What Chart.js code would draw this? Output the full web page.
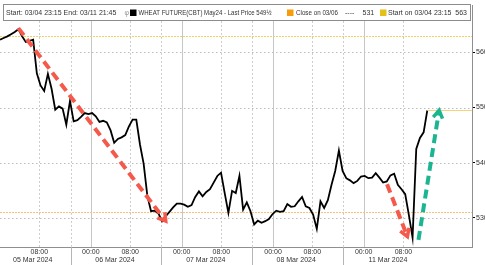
<!DOCTYPE html>
<html lang="en">
<head>
<meta charset="UTF-8">
<title>Wheat Future May24</title>
<style>
  html, body { margin: 0; padding: 0; background: #fff; overflow: hidden; }
  #wrap { position: relative; width: 485px; height: 265px; overflow: hidden; }
  canvas { position: absolute; left: 0; top: 0; }
</style>
</head>
<body>
<div id="wrap"><canvas id="chart" width="500" height="265"></canvas></div>
<script src="https://cdn.jsdelivr.net/npm/chart.js"></script>
<script>
  // one price every 45 min of trading time (x axis is in trading hours)
  const stepHours = 0.75;
  const prices = [
    562.3, 562.6, 562.9, 563.3, 563.7, 564.2, 562.9, 561.9, 562.1, 562.3,
    556.2, 554.0, 553.0, 556.1, 553.4, 549.6, 550.2, 549.8, 546.9, 551.2,
    547.5, 547.7, 548.3, 549.0, 548.8, 549.0, 548.4, 547.4, 547.6, 547.3,
    545.9, 543.6, 544.3, 544.6, 545.0, 546.6, 547.8, 547.8, 543.3, 539.8,
    534.0, 531.2, 531.3, 530.8, 529.4, 530.3, 531.1, 531.9, 532.6, 532.6,
    532.4, 532.0, 532.3, 533.8, 534.8, 533.9, 534.7, 535.2, 536.4, 537.6,
    538.2, 534.5, 530.9, 534.9, 534.5, 537.6, 531.5, 532.8, 531.2, 528.8,
    529.5, 529.1, 529.4, 529.8, 530.7, 531.3, 531.1, 531.2, 532.5, 532.0,
    532.1, 533.0, 533.8, 532.1, 531.8, 530.6, 528.0, 533.0, 531.8, 533.2,
    536.0, 538.5, 542.2, 538.5, 537.2, 536.8, 536.3, 536.7, 537.5, 537.6,
    537.2, 537.3, 538.1, 537.3, 536.4, 536.6, 537.7, 538.0, 536.0, 535.2,
    534.3, 530.5, 526.4, 542.5, 544.5, 545.5, 549.5
  ];

  const yTicks = [530, 540, 550, 560];
  const timeTickAt = [8.0, 18.5, 26.5, 37.0, 45.05, 55.6, 63.6, 74.05, 82.15];
  const timeTickText = ['08:00', '00:00', '08:00', '00:00', '08:00', '00:00', '08:00', '00:00', '08:00'];
  const dayBreakAt = [14.4, 32.85, 51.4, 69.9];
  const dayLabelAt = [6.65, 23.4, 41.9, 60.3, 79.0];
  const dayLabels = ['05 Mar 2024', '06 Mar 2024', '07 Mar 2024', '08 Mar 2024', '11 Mar 2024'];

  const startLevel = 563;
  const closeLevel = 531;
  const lastPrice = 549.5;

  // hand-drawn arrows: [hours, price] start and end
  const arrowFrom = [[3.73, 564.4], [78.8, 536.1], [85.2, 526.0]];
  const arrowTo = [[33.75, 529.4], [82.95, 526.6], [89.4, 549.5]];
  const arrowColors = ['#f4594b', '#f4594b', '#1bb592'];

  const FONT = '7px "Liberation Sans", Arial, sans-serif';

  const decor = {
    id: 'decor',
    beforeDatasetsDraw(chart) {
      const { ctx, chartArea: a, scales: { x, y } } = chart;
      ctx.save();
      ctx.lineWidth = 1;
      // horizontal dotted grid
      ctx.strokeStyle = '#bdbdbd';
      ctx.setLineDash([1.5, 2.5]);
      yTicks.forEach(v => {
        const py = Math.round(y.getPixelForValue(v)) + 0.5;
        ctx.beginPath(); ctx.moveTo(a.left, py); ctx.lineTo(a.right, py); ctx.stroke();
      });
      // vertical dotted: 08:00 ticks and day breaks
      const dotted = dayBreakAt.concat(timeTickAt.filter((v, i) => timeTickText[i] !== '00:00'));
      dotted.forEach(v => {
        const px = Math.round(x.getPixelForValue(v)) + 0.5;
        ctx.beginPath(); ctx.moveTo(px, a.top); ctx.lineTo(px, a.bottom); ctx.stroke();
      });
      // vertical solid at midnight
      ctx.setLineDash([]);
      ctx.strokeStyle = '#c6c6c6';
      timeTickAt.forEach((v, i) => {
        if (timeTickText[i] !== '00:00') return;
        const px = Math.round(x.getPixelForValue(v)) + 0.5;
        ctx.beginPath(); ctx.moveTo(px, a.top); ctx.lineTo(px, a.bottom); ctx.stroke();
      });
      // reference levels
      ctx.setLineDash([2, 1]);
      ctx.strokeStyle = '#efd266';
      let py = Math.round(y.getPixelForValue(startLevel)) + 0.5;
      ctx.beginPath(); ctx.moveTo(a.left, py); ctx.lineTo(a.right, py); ctx.stroke();
      ctx.strokeStyle = '#f8c27a';
      py = Math.round(y.getPixelForValue(closeLevel)) + 0.5;
      ctx.beginPath(); ctx.moveTo(a.left, py); ctx.lineTo(a.right, py); ctx.stroke();
      ctx.restore();
    },
    afterDatasetsDraw(chart) {
      const { ctx, chartArea: a, scales: { x, y } } = chart;
      ctx.save();
      // last price line
      const lastX = x.getPixelForValue((prices.length - 1) * stepHours);
      const ly = Math.round(y.getPixelForValue(lastPrice)) + 0.5;
      ctx.strokeStyle = '#f3d37e';
      ctx.lineWidth = 1;
      ctx.beginPath(); ctx.moveTo(lastX, ly); ctx.lineTo(a.right, ly); ctx.stroke();

      // arrows
      arrowFrom.forEach((f, i) => {
        const x1 = x.getPixelForValue(f[0]), y1 = y.getPixelForValue(f[1]);
        const x2 = x.getPixelForValue(arrowTo[i][0]), y2 = y.getPixelForValue(arrowTo[i][1]);
        const ang = Math.atan2(y2 - y1, x2 - x1);
        ctx.strokeStyle = arrowColors[i];
        ctx.lineWidth = 4;
        ctx.lineCap = 'butt';
        ctx.setLineDash([9, 5]);
        ctx.beginPath();
        ctx.moveTo(x1, y1);
        ctx.lineTo(x2 - 2 * Math.cos(ang), y2 - 2 * Math.sin(ang));
        ctx.stroke();
        ctx.setLineDash([]);
        ctx.lineWidth = 3.5;
        ctx.lineJoin = 'miter';
        const L = 9;
        ctx.beginPath();
        ctx.moveTo(x2 - L * Math.cos(ang - 0.55), y2 - L * Math.sin(ang - 0.55));
        ctx.lineTo(x2, y2);
        ctx.lineTo(x2 - L * Math.cos(ang + 0.55), y2 - L * Math.sin(ang + 0.55));
        ctx.stroke();
      });
      ctx.restore();
    },
    afterDraw(chart) {
      const { ctx, chartArea: a, scales: { x } } = chart;
      ctx.save();
      // day separators and date row below axis
      ctx.strokeStyle = '#b5b5b5';
      ctx.lineWidth = 1;
      dayBreakAt.forEach(v => {
        const px = Math.round(x.getPixelForValue(v)) + 0.5;
        ctx.beginPath(); ctx.moveTo(px, a.bottom); ctx.lineTo(px, 265); ctx.stroke();
      });
      ctx.fillStyle = '#333';
      ctx.font = FONT;
      ctx.textAlign = 'center';
      ctx.textBaseline = 'middle';
      dayLabels.forEach((t, i) => ctx.fillText(t, x.getPixelForValue(dayLabelAt[i]), 260.5));

      // legend box
      ctx.fillStyle = '#fff';
      ctx.fillRect(3, 4, 467, 16);
      ctx.strokeStyle = '#8c8c8c';
      ctx.strokeRect(3.5, 4.5, 467, 16);
      ctx.textAlign = 'left';
      ctx.fillStyle = '#333';
      const ty = 12.8;
      ctx.fillText('Start: 03/04 23:15 End: 03/11 21:45', 6, ty, 113);
      ctx.fillStyle = '#999';
      ctx.fillText('\u03c6', 124.5, ty);
      ctx.fillStyle = '#000';
      ctx.fillRect(130, 9.5, 6.5, 6.5);
      ctx.fillStyle = '#333';
      ctx.fillText('WHEAT FUTURE(CBT) May24 - Last Price 549\u00bd', 138.5, ty, 133);
      ctx.fillStyle = '#f59d0c';
      ctx.fillRect(287, 9.5, 6.5, 6.5);
      ctx.fillStyle = '#333';
      ctx.fillText('Close on 03/06', 296, ty, 42);
      ctx.fillText('----', 345, ty, 12);
      ctx.fillText('531', 362.5, ty);
      ctx.fillStyle = '#e3c119';
      ctx.fillRect(380, 9.5, 6.5, 6.5);
      ctx.fillStyle = '#333';
      ctx.fillText('Start on 03/04 23:15  563', 388, ty, 79);
      ctx.restore();
    }
  };

  new Chart(document.getElementById('chart'), {
    type: 'line',
    data: {
      datasets: [{
        label: 'WHEAT FUTURE(CBT) May24',
        data: prices.map((p, i) => ({ x: i * stepHours, y: p })),
        borderColor: '#000',
        borderWidth: 1.8,
        pointRadius: 0,
        tension: 0
      }]
    },
    options: {
      responsive: false,
      animation: false,
      devicePixelRatio: 1,
      layout: { padding: 0 },
      plugins: { legend: { display: false }, tooltip: { enabled: false } },
      scales: {
        x: {
          type: 'linear',
          min: 0,
          max: 96.1,
          afterBuildTicks: s => { s.ticks = timeTickAt.map(v => ({ value: v })); },
          afterFit: s => { s.height = 18; },
          grid: { drawOnChartArea: false, drawTicks: false },
          border: { color: '#8f8f8f' },
          ticks: {
            autoSkip: false,
            maxRotation: 0,
            padding: 1,
            color: '#333',
            font: { family: '"Liberation Sans", Arial, sans-serif', size: 7 },
            callback: (v, i) => timeTickText[i]
          }
        },
        y: {
          position: 'right',
          min: 524.72,
          max: 568.55,
          afterBuildTicks: s => { s.ticks = yTicks.map(v => ({ value: v })); },
          afterFit: s => { s.width = 28; },
          grid: { drawOnChartArea: false, tickLength: 3, tickColor: '#000' },
          border: { color: '#8f8f8f' },
          ticks: {
            padding: 1,
            color: '#333',
            font: { family: '"Liberation Sans", Arial, sans-serif', size: 7 }
          }
        }
      }
    },
    plugins: [decor]
  });
</script>
</body>
</html>
